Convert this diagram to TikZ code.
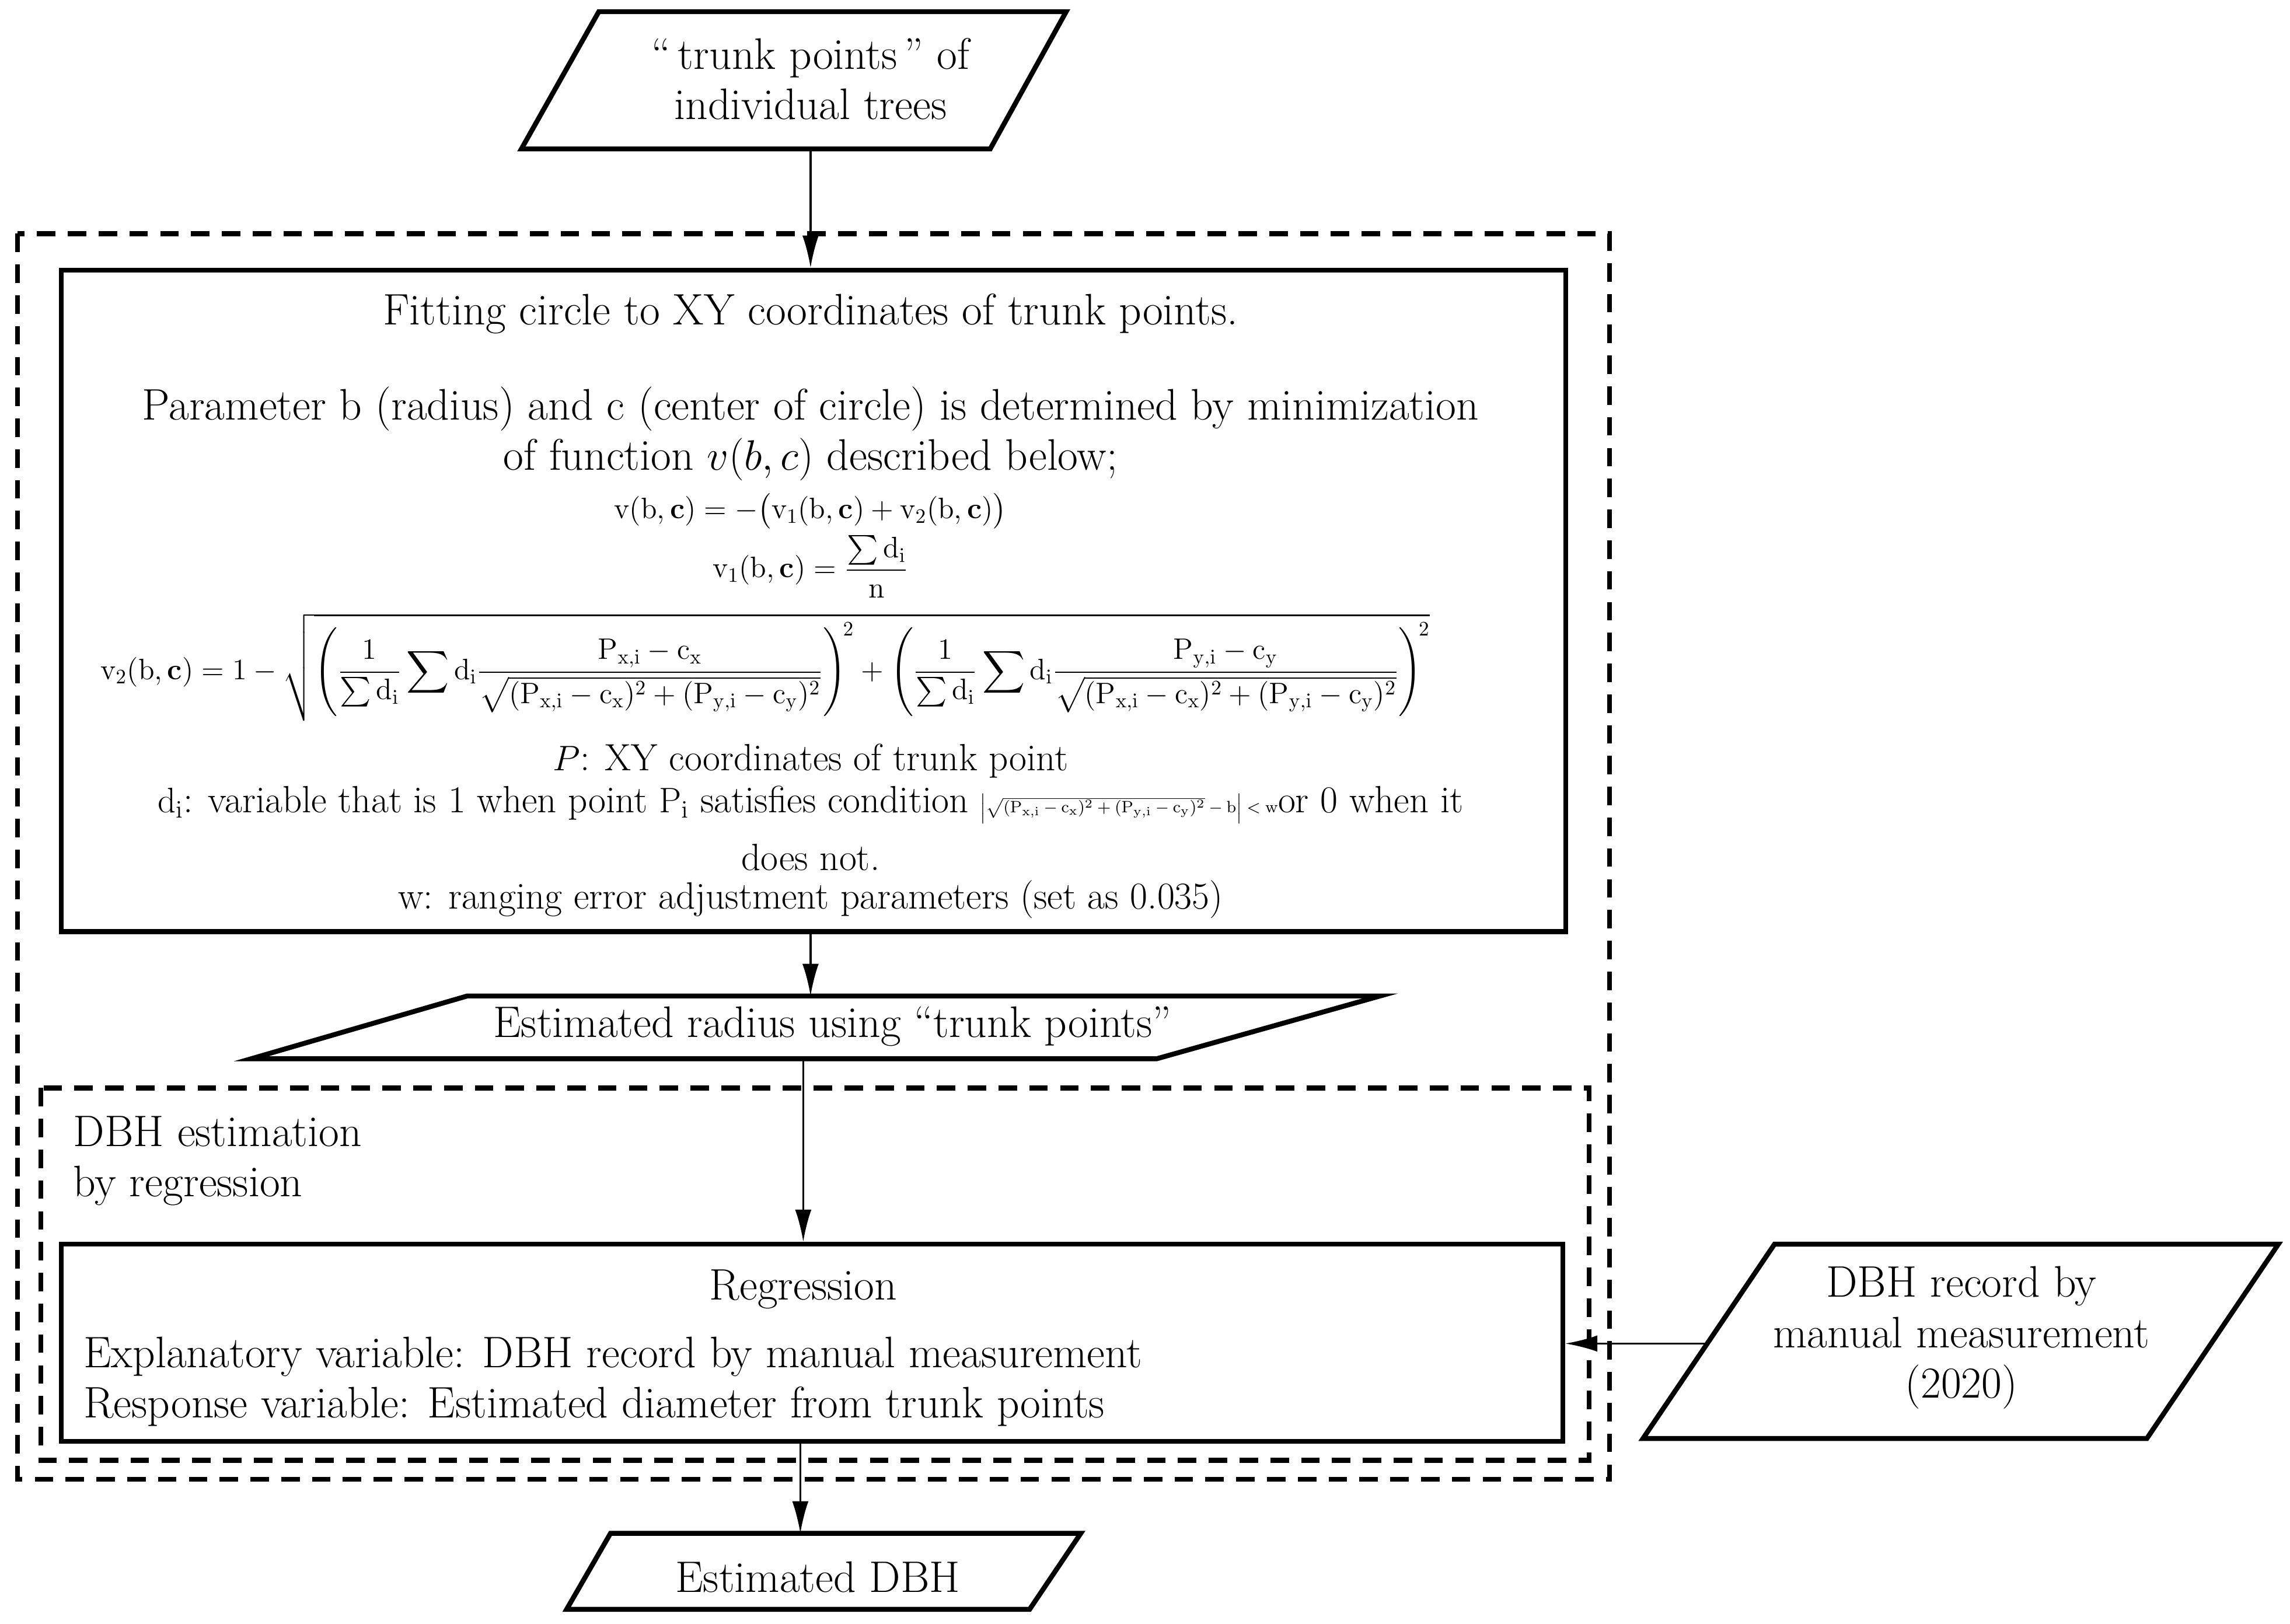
\documentclass[tikz,border=0pt]{standalone}
\usepackage{amsmath}
\usetikzlibrary{arrows.meta}
\begin{document}
\begin{tikzpicture}[x=0.025cm,y=-0.025cm,
  box/.style={line width=2.4pt},
  dbox/.style={line width=2.4pt,dash pattern=on 9pt off 6pt},
  arr/.style={line width=0.9pt,-{Latex[length=0.55cm,width=0.28cm]}},
  txt/.style={inner sep=0pt,font=\fontsize{21.5}{24.5}\selectfont},
  stxt/.style={inner sep=0pt,font=\fontsize{18.5}{21}\selectfont},
  ftxt/.style={inner sep=0pt,font=\fontsize{14.5}{17}\selectfont}]
\useasboundingbox (0,0) rectangle (1568,1112);
% top input
\draw[box] (410,8) -- (730,8) -- (678,102) -- (357,102) -- cycle;
\coordinate (inB) at (555,102);
\node[txt,align=center] (in) at (555,54) {``\,trunk points\,'' of\\individual trees};
% dashed frames
\draw[dbox] (12,160) rectangle (1102,1013);
\draw[dbox] (28,745) rectangle (1088,1000);
% fitting box
\node[box,draw,minimum width=1030*0.025cm,minimum height=453*0.025cm,inner sep=0pt] (fit) at (557,411.5) {};
\node[txt] at (555,215) {Fitting circle to XY coordinates of trunk points.};
\node[txt,align=center] at (555,297) {Parameter b (radius) and c (center of circle) is determined by minimization\\of function $v(b,c)$ described below;};
\node[ftxt] at (555,350) {$\mathrm{v(b,\mathbf{c})=-\bigl(v_1(b,\mathbf{c})+v_2(b,\mathbf{c})\bigr)}$};
\node[ftxt] at (555,388) {$\mathrm{v_1(b,\mathbf{c})=\dfrac{\sum d_i}{n}}$};
\node[ftxt] at (524,457) {$\mathrm{v_2(b,\mathbf{c})=1-\sqrt{\left(\dfrac{1}{\sum d_i}\displaystyle\sum d_i\frac{P_{x,i}-c_x}{\sqrt{(P_{x,i}-c_x)^2+(P_{y,i}-c_y)^2}}\right)^{\!2}+\left(\dfrac{1}{\sum d_i}\displaystyle\sum d_i\frac{P_{y,i}-c_y}{\sqrt{(P_{x,i}-c_x)^2+(P_{y,i}-c_y)^2}}\right)^{\!2}}}$};
\node[stxt] at (555,521) {$P$: XY coordinates of trunk point};
\node[stxt] at (555,551) {$\mathrm{d_i}$: variable that is 1 when point $\mathrm{P_i}$ satisfies condition {\fontsize{8.5}{9}\selectfont$\left|\sqrt{\mathrm{(P_{x,i}-c_x)^2+(P_{y,i}-c_y)^2}}-\mathrm{b}\right|<\mathrm{w}$}or 0 when it};
\node[stxt] at (555,587) {does not.};
\node[stxt] at (555,616) {w: ranging error adjustment parameters (set as 0.035)};
% radius
\draw[box] (320,682) -- (945,682) -- (792,725) -- (172,725) -- cycle;
\coordinate (radT) at (555,682);
\coordinate (radB) at (550,725);
\node[txt] (rad) at (570,703) {Estimated radius using ``trunk points''};
% DBH estimation label
\node[txt,align=left,anchor=west] at (50,795) {DBH estimation\\by regression};
% regression box
\node[box,draw,minimum width=1028*0.025cm,minimum height=135*0.025cm,inner sep=0pt] (reg) at (556,919.5) {};
\node[txt] at (550,883) {Regression};
\node[txt,align=left,anchor=west] at (57,946) {Explanatory variable: DBH record by manual measurement\\Response variable: Estimated diameter from trunk points};
% manual record
\draw[box] (1215,852) -- (1560,852) -- (1470,985) -- (1125,985) -- cycle;
\coordinate (manL) at (1168,920);
\node[txt,align=center] (man) at (1343,916) {DBH record by\\manual measurement\\(2020)};
% output
\draw[box] (418,1050) -- (740,1050) -- (705,1102) -- (388,1102) -- cycle;
\coordinate (outT) at (548,1050);
\node[txt] (out) at (560,1080) {Estimated DBH};
% connectors
\draw[arr] (inB) -- (fit.north -| inB);
\draw[arr] (fit.south -| radT) -- (radT);
\draw[arr] (radB) -- (reg.north -| radB);
\draw[arr] (reg.south -| outT) -- (outT);
\draw[arr] (manL) -- (reg.east |- manL);
\end{tikzpicture}
\end{document}
